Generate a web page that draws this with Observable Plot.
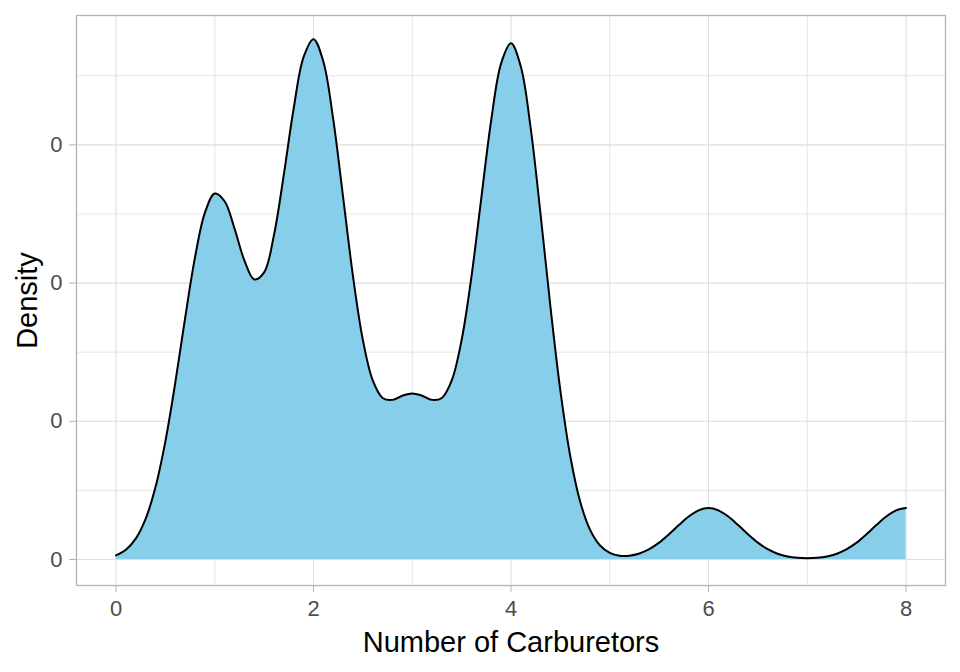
<!DOCTYPE html>
<html>
<head>
<meta charset="utf-8">
<script src="https://cdn.jsdelivr.net/npm/d3@7"></script>
<script src="https://cdn.jsdelivr.net/npm/@observablehq/plot@0.6"></script>
<style>
  html, body { margin: 0; padding: 0; background: #ffffff; }
  #chart { width: 960px; height: 672px; }
</style>
</head>
<body>
<div id="chart"></div>
<script>
// Number of carburetors (x) and estimated density (y)
const carbX = [
  0.0, 0.1, 0.2, 0.3, 0.4, 0.5, 0.6, 0.7, 0.8, 0.9,
  1.0, 1.1, 1.2, 1.3, 1.4, 1.5, 1.6, 1.7, 1.8, 1.9,
  2.0, 2.1, 2.2, 2.3, 2.4, 2.5, 2.6, 2.7, 2.8, 2.9,
  3.0, 3.1, 3.2, 3.3, 3.4, 3.5, 3.6, 3.7, 3.8, 3.9,
  4.0, 4.1, 4.2, 4.3, 4.4, 4.5, 4.6, 4.7, 4.8, 4.9,
  5.0, 5.1, 5.2, 5.3, 5.4, 5.5, 5.6, 5.7, 5.8, 5.9,
  6.0, 6.1, 6.2, 6.3, 6.4, 6.5, 6.6, 6.7, 6.8, 6.9,
  7.0, 7.1, 7.2, 7.3, 7.4, 7.5, 7.6, 7.7, 7.8, 7.9,
  8.0
];
const densityY = [
  0.0030, 0.0071, 0.0151, 0.0294, 0.0524, 0.0855, 0.1278, 0.1747, 0.2186, 0.2508,
  0.2648, 0.2592, 0.2395, 0.2164, 0.2026, 0.2077, 0.2349, 0.2787, 0.3267, 0.3636,
  0.3765, 0.3602, 0.3184, 0.2620, 0.2049, 0.1588, 0.1296, 0.1169, 0.1155, 0.1185,
  0.1202, 0.1185, 0.1155, 0.1169, 0.1296, 0.1588, 0.2049, 0.2619, 0.3180, 0.3590,
  0.3735, 0.3565, 0.3117, 0.2494, 0.1825, 0.1222, 0.0749, 0.0420, 0.0216, 0.0103,
  0.0048, 0.0027, 0.0028, 0.0044, 0.0075, 0.0122, 0.0183, 0.0249, 0.0311, 0.0356,
  0.0372, 0.0356, 0.0311, 0.0249, 0.0183, 0.0122, 0.0075, 0.0042, 0.0022, 0.0012,
  0.0009, 0.0012, 0.0022, 0.0042, 0.0075, 0.0122, 0.0183, 0.0249, 0.0311, 0.0356,
  0.0372
];
const xTicks = [0, 2, 4, 6, 8];
const xTickLabels = ["0", "2", "4", "6", "8"];
const xMinorTicks = [1, 3, 5, 7];
const yTicks = [0, 0.1, 0.2, 0.3];
const yTickLabels = ["0", "0", "0", "0"];
const yMinorTicks = [0.05, 0.15, 0.25, 0.35];
const xTitle = "Number of Carburetors";
const yTitle = "Density";

const data = carbX.map((x, i) => ({x, y: densityY[i]}));

const gridColor = "#dedede";
const frameColor = "#b3b3b3";
const fontFamily = "'Liberation Sans', Arial, sans-serif";

const chart = Plot.plot({
  width: 960,
  height: 672,
  marginLeft: 76,
  marginRight: 15,
  marginTop: 15,
  marginBottom: 87,
  style: {fontFamily, background: "#ffffff", overflow: "visible"},
  x: {domain: [-0.4, 8.4]},
  y: {domain: [-0.0188, 0.3936]},
  marks: [
    Plot.gridX(xMinorTicks, {stroke: gridColor, strokeOpacity: 1, strokeWidth: 0.8}),
    Plot.gridY(yMinorTicks, {stroke: gridColor, strokeOpacity: 1, strokeWidth: 0.8}),
    Plot.gridX(xTicks, {stroke: gridColor, strokeOpacity: 1, strokeWidth: 1.1}),
    Plot.gridY(yTicks, {stroke: gridColor, strokeOpacity: 1, strokeWidth: 1.1}),
    Plot.areaY(data, {x: "x", y: "y", fill: "#87CEEB", curve: "catmull-rom"}),
    Plot.lineY(data, {x: "x", y: "y", stroke: "#000000", strokeWidth: 2, curve: "catmull-rom"}),
    Plot.frame({stroke: frameColor, strokeWidth: 1.3}),
    Plot.axisX(xTicks, {
      tickSize: 7, tickPadding: 8, stroke: frameColor, color: "#4d4d4d",
      fontSize: 22, label: null,
      tickFormat: (d, i) => xTickLabels[i]
    }),
    Plot.axisY(yTicks, {
      tickSize: 7, tickPadding: 7, stroke: frameColor, color: "#4d4d4d",
      fontSize: 22, label: null,
      tickFormat: (d, i) => yTickLabels[i]
    }),
    Plot.text([xTitle], {
      text: d => d, frameAnchor: "bottom", lineAnchor: "bottom", textAnchor: "middle",
      dy: 66, fontSize: 29, fill: "#000000"
    }),
    Plot.text([yTitle], {
      text: d => d, frameAnchor: "left", rotate: -90, lineAnchor: "middle", textAnchor: "middle",
      dx: -49, fontSize: 29, fill: "#000000"
    })
  ]
});
document.getElementById("chart").appendChild(chart);
</script>
</body>
</html>
